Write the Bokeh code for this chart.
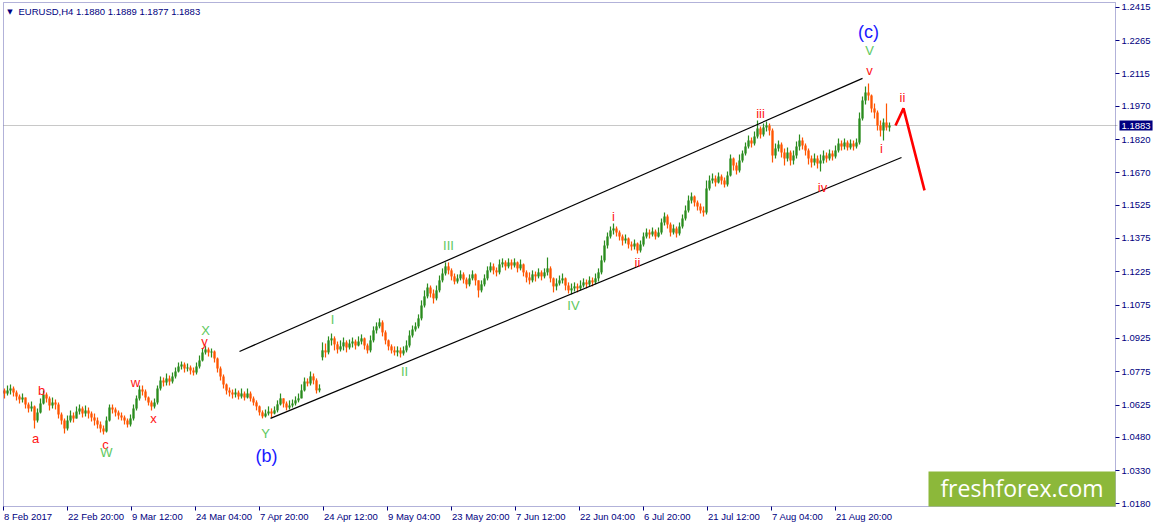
import numpy as np
from bokeh.plotting import figure
from bokeh.models import (Range1d, FixedTicker, Label, BoxAnnotation, LinearAxis,
                          ColumnDataSource, PrintfTickFormatter, CustomJSTickFormatter)
from bokeh.core.properties import value
from bokeh.embed import file_html
from bokeh.resources import INLINE

# ---------------- data (EURUSD H4, one candle = 3 H4 bars) ----------------
symbol_title = "EURUSD,H4  1.1880 1.1889 1.1877 1.1883"
last_price = 1.1883
first_open = 1.0690
gap_opens = {106: 1.0840}
bars_per_candle = 3

close = [
1.0677,1.0691,1.0700,1.0682,1.0664,1.0650,1.0659,1.0628,1.0610,1.0619,
1.0556,1.0592,1.0632,1.0673,1.0655,1.0623,1.0637,1.0628,1.0583,1.0556,
1.0520,1.0556,1.0578,1.0565,1.0596,1.0610,1.0587,1.0601,1.0587,1.0569,
1.0556,1.0538,1.0520,1.0506,1.0556,1.0614,1.0605,1.0592,1.0578,1.0569,
1.0556,1.0538,1.0565,1.0610,1.0655,1.0695,1.0686,1.0659,1.0637,1.0619,
1.0637,1.0700,1.0736,1.0727,1.0745,1.0731,1.0754,1.0776,1.0799,1.0808,
1.0790,1.0794,1.0781,1.0772,1.0799,1.0826,1.0862,1.0875,1.0862,1.0866,
1.0835,1.0790,1.0754,1.0718,1.0691,1.0682,1.0673,1.0682,1.0664,1.0677,
1.0659,1.0677,1.0655,1.0637,1.0619,1.0592,1.0574,1.0587,1.0596,1.0587,
1.0601,1.0628,1.0655,1.0632,1.0614,1.0623,1.0632,1.0646,1.0655,1.0691,
1.0731,1.0722,1.0754,1.0736,1.0691,1.0700,1.0871,1.0862,1.0916,1.0925,
1.0898,1.0875,1.0889,1.0907,1.0884,1.0902,1.0911,1.0893,1.0911,1.0925,
1.0893,1.0871,1.0916,1.0961,1.0979,1.0997,1.0952,1.0916,1.0889,1.0871,
1.0862,1.0871,1.0857,1.0871,1.0893,1.0938,1.0965,1.0979,1.1015,1.1073,
1.1114,1.1154,1.1127,1.1105,1.1141,1.1186,1.1217,1.1249,1.1231,1.1204,
1.1181,1.1195,1.1213,1.1190,1.1168,1.1195,1.1213,1.1186,1.1141,1.1168,
1.1195,1.1231,1.1249,1.1231,1.1222,1.1258,1.1267,1.1249,1.1267,1.1253,
1.1267,1.1240,1.1258,1.1222,1.1199,1.1186,1.1213,1.1204,1.1222,1.1204,
1.1222,1.1240,1.1195,1.1159,1.1172,1.1186,1.1195,1.1163,1.1141,1.1150,
1.1159,1.1150,1.1163,1.1177,1.1168,1.1186,1.1177,1.1195,1.1222,1.1276,
1.1343,1.1384,1.1411,1.1420,1.1402,1.1384,1.1366,1.1375,1.1348,1.1339,
1.1352,1.1321,1.1348,1.1384,1.1402,1.1393,1.1406,1.1384,1.1402,1.1447,
1.1474,1.1438,1.1402,1.1420,1.1397,1.1429,1.1465,1.1501,1.1546,1.1564,
1.1537,1.1519,1.1501,1.1492,1.1600,1.1636,1.1645,1.1627,1.1654,1.1636,
1.1618,1.1658,1.1735,1.1703,1.1681,1.1726,1.1757,1.1789,1.1816,1.1802,
1.1834,1.1870,1.1843,1.1874,1.1883,1.1861,1.1748,1.1780,1.1798,1.1762,
1.1735,1.1762,1.1726,1.1748,1.1789,1.1816,1.1793,1.1771,1.1735,1.1717,
1.1735,1.1712,1.1726,1.1748,1.1735,1.1757,1.1744,1.1771,1.1802,1.1789,
1.1807,1.1784,1.1802,1.1789,1.1807,1.1915,1.1996,1.2032,1.2018,1.1960,
1.1942,1.1883,1.1861,1.1897,1.1874,1.1883]

high = [
1.0700,1.0713,1.0718,1.0709,1.0691,1.0673,1.0677,1.0659,1.0637,1.0641,
1.0623,1.0610,1.0655,1.0691,1.0682,1.0664,1.0659,1.0650,1.0637,1.0592,
1.0565,1.0578,1.0601,1.0592,1.0619,1.0628,1.0619,1.0623,1.0614,1.0596,
1.0587,1.0569,1.0551,1.0533,1.0574,1.0628,1.0628,1.0614,1.0601,1.0592,
1.0578,1.0565,1.0583,1.0628,1.0668,1.0713,1.0713,1.0695,1.0664,1.0646,
1.0655,1.0713,1.0754,1.0749,1.0767,1.0758,1.0772,1.0794,1.0817,1.0821,
1.0817,1.0812,1.0803,1.0794,1.0817,1.0848,1.0880,1.0893,1.0884,1.0880,
1.0871,1.0839,1.0799,1.0763,1.0722,1.0704,1.0695,1.0700,1.0691,1.0700,
1.0686,1.0700,1.0686,1.0664,1.0646,1.0623,1.0601,1.0605,1.0619,1.0610,
1.0619,1.0646,1.0677,1.0655,1.0641,1.0646,1.0650,1.0664,1.0677,1.0718,
1.0749,1.0745,1.0776,1.0767,1.0745,1.0718,1.0907,1.0902,1.0934,1.0947,
1.0934,1.0911,1.0916,1.0929,1.0916,1.0920,1.0929,1.0920,1.0934,1.0943,
1.0929,1.0902,1.0938,1.0979,1.0997,1.1015,1.1006,1.0961,1.0920,1.0898,
1.0889,1.0889,1.0884,1.0889,1.0916,1.0961,1.0983,1.0997,1.1033,1.1096,
1.1141,1.1172,1.1163,1.1145,1.1163,1.1208,1.1240,1.1267,1.1267,1.1240,
1.1217,1.1213,1.1231,1.1222,1.1199,1.1213,1.1231,1.1217,1.1181,1.1186,
1.1213,1.1249,1.1267,1.1262,1.1244,1.1280,1.1285,1.1276,1.1285,1.1280,
1.1285,1.1271,1.1280,1.1262,1.1231,1.1222,1.1231,1.1226,1.1240,1.1231,
1.1240,1.1289,1.1249,1.1199,1.1195,1.1208,1.1217,1.1199,1.1177,1.1172,
1.1177,1.1172,1.1186,1.1195,1.1190,1.1204,1.1199,1.1217,1.1240,1.1298,
1.1366,1.1402,1.1429,1.1442,1.1429,1.1411,1.1393,1.1393,1.1379,1.1361,
1.1370,1.1357,1.1366,1.1402,1.1420,1.1415,1.1424,1.1415,1.1424,1.1465,
1.1492,1.1483,1.1447,1.1438,1.1429,1.1447,1.1483,1.1523,1.1568,1.1582,
1.1568,1.1546,1.1532,1.1519,1.1636,1.1658,1.1667,1.1658,1.1672,1.1663,
1.1649,1.1676,1.1753,1.1739,1.1717,1.1753,1.1771,1.1807,1.1838,1.1829,
1.1856,1.1906,1.1879,1.1892,1.1901,1.1892,1.1870,1.1802,1.1816,1.1807,
1.1780,1.1784,1.1771,1.1771,1.1811,1.1843,1.1829,1.1802,1.1780,1.1748,
1.1757,1.1748,1.1753,1.1771,1.1762,1.1775,1.1771,1.1793,1.1825,1.1816,
1.1825,1.1816,1.1820,1.1816,1.1825,1.1942,1.2014,1.2059,1.2072,1.2023,
1.1982,1.1951,1.1906,1.1915,1.1982,1.1897]

low = [
1.0655,1.0668,1.0673,1.0664,1.0646,1.0632,1.0637,1.0610,1.0592,1.0596,
1.0520,1.0547,1.0587,1.0628,1.0637,1.0601,1.0610,1.0605,1.0565,1.0538,
1.0497,1.0511,1.0547,1.0547,1.0565,1.0583,1.0569,1.0574,1.0565,1.0551,
1.0533,1.0520,1.0502,1.0493,1.0502,1.0551,1.0587,1.0574,1.0560,1.0556,
1.0538,1.0524,1.0529,1.0556,1.0601,1.0646,1.0668,1.0646,1.0623,1.0601,
1.0610,1.0628,1.0691,1.0709,1.0713,1.0713,1.0722,1.0745,1.0772,1.0785,
1.0772,1.0776,1.0763,1.0758,1.0763,1.0790,1.0821,1.0853,1.0844,1.0839,
1.0817,1.0772,1.0736,1.0700,1.0673,1.0664,1.0655,1.0659,1.0650,1.0655,
1.0646,1.0655,1.0641,1.0623,1.0601,1.0578,1.0565,1.0569,1.0578,1.0569,
1.0583,1.0592,1.0623,1.0614,1.0601,1.0605,1.0614,1.0623,1.0637,1.0655,
1.0686,1.0709,1.0713,1.0718,1.0677,1.0682,1.0826,1.0839,1.0853,1.0893,
1.0871,1.0857,1.0866,1.0871,1.0862,1.0875,1.0884,1.0875,1.0889,1.0898,
1.0875,1.0857,1.0862,1.0907,1.0947,1.0970,1.0934,1.0898,1.0871,1.0857,
1.0848,1.0844,1.0839,1.0848,1.0862,1.0884,1.0929,1.0956,1.0970,1.1006,
1.1064,1.1105,1.1109,1.1082,1.1096,1.1132,1.1177,1.1208,1.1213,1.1186,
1.1168,1.1172,1.1186,1.1172,1.1150,1.1159,1.1186,1.1163,1.1109,1.1132,
1.1159,1.1186,1.1222,1.1213,1.1204,1.1213,1.1244,1.1231,1.1240,1.1235,
1.1244,1.1222,1.1231,1.1204,1.1177,1.1168,1.1177,1.1181,1.1195,1.1186,
1.1195,1.1208,1.1177,1.1132,1.1141,1.1163,1.1172,1.1141,1.1127,1.1123,
1.1136,1.1132,1.1141,1.1154,1.1150,1.1159,1.1159,1.1168,1.1181,1.1213,
1.1267,1.1330,1.1375,1.1393,1.1384,1.1366,1.1343,1.1352,1.1330,1.1321,
1.1325,1.1307,1.1312,1.1339,1.1375,1.1375,1.1384,1.1370,1.1379,1.1393,
1.1433,1.1420,1.1384,1.1393,1.1379,1.1388,1.1420,1.1456,1.1492,1.1532,
1.1519,1.1501,1.1487,1.1474,1.1483,1.1591,1.1622,1.1609,1.1622,1.1618,
1.1604,1.1609,1.1654,1.1681,1.1663,1.1672,1.1717,1.1748,1.1780,1.1784,
1.1793,1.1825,1.1825,1.1834,1.1856,1.1838,1.1717,1.1735,1.1766,1.1739,
1.1703,1.1721,1.1703,1.1708,1.1735,1.1771,1.1775,1.1748,1.1708,1.1694,
1.1703,1.1690,1.1676,1.1712,1.1717,1.1726,1.1726,1.1735,1.1762,1.1771,
1.1775,1.1771,1.1775,1.1771,1.1780,1.1798,1.1906,1.1978,1.1996,1.1942,
1.1915,1.1861,1.1834,1.1816,1.1861,1.1856]

time_tick_bars = [0, 64, 128, 192, 256, 320, 384, 448, 512, 576, 640, 704, 768, 832]
time_tick_labels = ["8 Feb 2017", "22 Feb 20:00", "9 Mar 12:00", "24 Mar 04:00",
                    "7 Apr 20:00", "24 Apr 12:00", "9 May 04:00", "23 May 20:00",
                    "7 Jun 12:00", "22 Jun 04:00", "6 Jul 20:00", "21 Jul 12:00",
                    "7 Aug 04:00", "21 Aug 20:00"]
price_ticks = [1.2415, 1.2265, 1.2115, 1.1970, 1.1820, 1.1670, 1.1525, 1.1375,
               1.1225, 1.1075, 1.0925, 1.0775, 1.0625, 1.0480, 1.0330, 1.0180]

channel_upper_x = [236, 859]
channel_upper_y = [1.0866, 1.2095]
channel_lower_x = [267, 898]
channel_lower_y = [1.0565, 1.1739]
forecast_x = [892, 900, 921]
forecast_y = [1.1883, 1.1960, 1.1591]

red_x = [32, 38, 102, 132, 150, 201, 610, 634, 757, 819, 866, 878, 899]
red_y = [1.0475, 1.0691, 1.0448, 1.0727, 1.0565, 1.0911, 1.1474, 1.1267,
         1.1937, 1.1604, 1.2131, 1.1780, 1.2009]
red_t = ["a", "b", "c", "w", "x", "y", "i", "ii", "iii", "iv", "v", "i", "ii"]

green_x = [103, 202, 262, 329, 401, 445, 570, 866]
green_y = [1.0412, 1.0961, 1.0497, 1.1010, 1.0776, 1.1343, 1.1073, 1.2221]
green_t = ["W", "X", "Y", "I", "II", "III", "IV", "V"]

blue_x = [263, 865]
blue_y = [1.0398, 1.2306]
blue_t = ["(b)", "(c)"]

# ---------------- layout constants ----------------
W, H = 1154, 526
# chart window (bar index / price) and the whole canvas around it
CH_X0, CH_X1 = 0, 1112
CH_Y0, CH_Y1 = 1.01685, 1.24365
PX_PRICE = 0.00045                      # price per pixel
CV_X0 = CH_X0 - 3
CV_Y1 = CH_Y1 + 2 * PX_PRICE
CV_Y0 = CV_Y1 - H * PX_PRICE
NAVY = "#000080"
AXFONT = "Liberation Sans"
AXSIZE = 9.5

p = figure(width=W, height=H, x_range=Range1d(CV_X0, CV_X0 + W), y_range=Range1d(CV_Y0, CV_Y1),
           output_backend="svg", toolbar_location=None,
           x_axis_location=None, y_axis_location=None,
           min_border_left=0, min_border_right=0, min_border_top=0, min_border_bottom=0)
p.background_fill_color = "white"
p.border_fill_color = "white"
p.outline_line_color = None
p.grid.visible = False

# price axis (right edge of the chart window)
ya = LinearAxis(fixed_location=CH_X1, ticker=FixedTicker(ticks=price_ticks),
                formatter=PrintfTickFormatter(format="%.4f"))
ya.axis_line_color = None
ya.major_tick_line_color = NAVY
ya.minor_tick_line_color = None
ya.major_tick_out = 4
ya.major_tick_in = 0
ya.major_label_standoff = 2
ya.major_label_text_color = NAVY
ya.major_label_text_font = AXFONT
ya.major_label_text_font_size = "%spx" % AXSIZE
p.add_layout(ya, "right")

# time axis: tick marks
xa = LinearAxis(fixed_location=CH_Y0, ticker=FixedTicker(ticks=time_tick_bars),
                formatter=CustomJSTickFormatter(code="return ''"))
xa.axis_line_color = None
xa.major_tick_line_color = NAVY
xa.minor_tick_line_color = None
xa.major_tick_out = 4
xa.major_tick_in = 0
p.add_layout(xa, "below")

# time axis: labels written to the right of their tick (as in the terminal)
ARIAL_W = {" ": 278, ":": 278, "F": 611, "e": 556, "b": 556, "M": 833, "a": 556, "r": 333,
           "A": 667, "p": 556, "y": 500, "J": 500, "u": 556, "n": 556, "l": 222, "g": 556}
def text_w(s):
    return sum(ARIAL_W.get(ch, 556) for ch in s) * AXSIZE / 1000.0
label_pos = [t + text_w(s) / 2.0 + 0.5 for t, s in zip(time_tick_bars, time_tick_labels)]
xl = LinearAxis(fixed_location=CH_Y0, ticker=FixedTicker(ticks=label_pos),
                major_label_overrides={lp: s for lp, s in zip(label_pos, time_tick_labels)})
xl.axis_line_color = None
xl.major_tick_line_color = None
xl.minor_tick_line_color = None
xl.major_tick_out = 0
xl.major_tick_in = 0
xl.major_label_standoff = 4
xl.major_label_text_color = NAVY
xl.major_label_text_font = AXFONT
xl.major_label_text_font_size = "%spx" % AXSIZE
p.add_layout(xl, "below")

# chart window border
p.add_layout(BoxAnnotation(left=CH_X0, right=CH_X1, bottom=CH_Y0, top=CH_Y1,
                           fill_color=None, line_color=NAVY, line_width=1))

# current price line
p.segment(x0=[CH_X0], x1=[CH_X1 + 2], y0=[last_price], y1=[last_price],
          line_color="#c8c8c8", line_width=1)

# candles
n = len(close)
opens = [first_open] + close[:-1]
for k, v in gap_opens.items():
    opens[k] = v
xs = [bars_per_candle * k + 1 for k in range(n)]
hi = [max(h, o, c) for h, o, c in zip(high, opens, close)]
lo = [min(l, o, c) for l, o, c in zip(low, opens, close)]
cols = ["#2a8c1e" if c > o else ("#ff5500" if c < o else "#000000") for o, c in zip(opens, close)]
src = ColumnDataSource(dict(x=xs, h=hi, l=lo, top=[max(o, c) for o, c in zip(opens, close)],
                            bot=[min(o, c) for o, c in zip(opens, close)], col=cols))
p.segment(x0="x", y0="l", x1="x", y1="h", line_color="col", line_width=1.2, source=src)
p.vbar(x="x", width=2.3, top="top", bottom="bot", fill_color="col", line_color=None, source=src)

# channel and forecast
p.line(channel_upper_x, channel_upper_y, line_color="black", line_width=1.2)
p.line(channel_lower_x, channel_lower_y, line_color="black", line_width=1.2)
p.line(forecast_x, forecast_y, line_color="#ff0000", line_width=2.6)

# wave labels
p.text(x=red_x, y=red_y, text=red_t, text_color="#ff1414", text_font=value("Liberation Sans"),
       text_font_size="13px", text_align="center", text_baseline="middle")
p.text(x=green_x, y=green_y, text=green_t, text_color="#5ec85e", text_font=value("Liberation Sans"),
       text_font_size="13px", text_align="center", text_baseline="middle")
p.text(x=blue_x, y=blue_y, text=blue_t, text_color="#1a1aff", text_font=value("Liberation Sans"),
       text_font_size="18px", text_align="center", text_baseline="middle")

# title
p.add_layout(Label(x=6.5, y=1.2396, text="\u25bc", text_font="DejaVu Sans", text_font_size="7px",
                   text_color=NAVY, text_align="center", text_baseline="middle"))
p.add_layout(Label(x=15, y=1.2396, text=symbol_title, text_font=AXFONT,
                   text_font_size="%spx" % AXSIZE, text_color=NAVY, text_baseline="middle"))

# price tag on the price scale
p.add_layout(Label(x=CH_X1 + 4, y=last_price, text="%.4f" % last_price, text_font=AXFONT,
                   text_font_size="%spx" % AXSIZE, text_color="white", text_align="left",
                   text_baseline="middle", background_fill_color=NAVY, padding=2))

# logo
p.add_layout(BoxAnnotation(left=925, right=CH_X1, bottom=CH_Y0, top=1.0326,
                           fill_color="#8cb83a", fill_alpha=1.0, line_color=None))
p.add_layout(Label(x=(925 + CH_X1) / 2, y=1.0250, text="freshforex.com", text_font="Open Sans",
                   text_font_size="23px", text_color="white", text_align="center",
                   text_baseline="middle"))

open("out.html", "w").write(file_html(p, INLINE))
